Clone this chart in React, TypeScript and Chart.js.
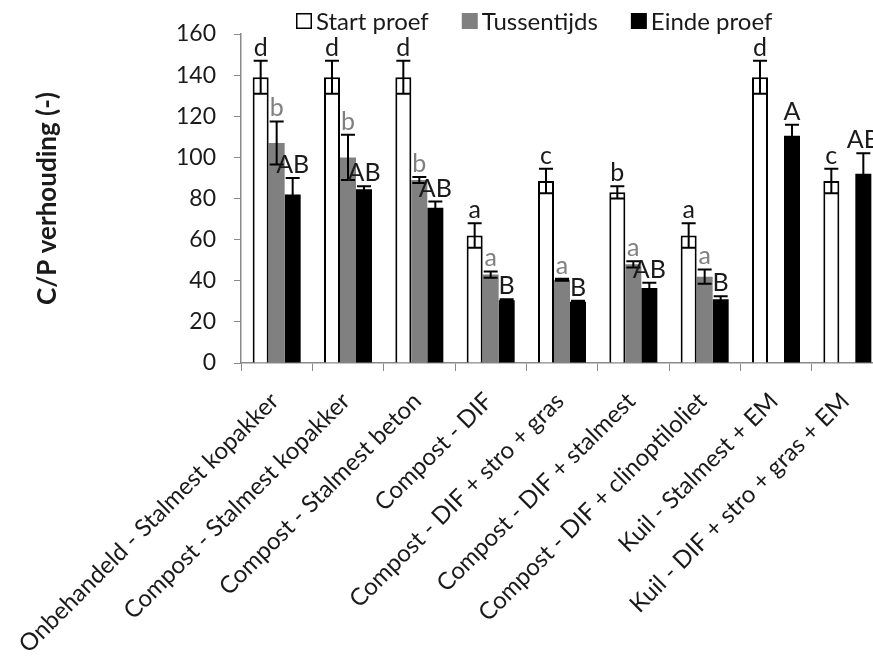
import React, { useEffect, useRef } from 'react';
import { Chart, registerables } from 'chart.js';

Chart.register(...registerables);

const categories = [
  'Onbehandeld - Stalmest kopakker',
  'Compost - Stalmest kopakker',
  'Compost - Stalmest beton',
  'Compost - DIF',
  'Compost - DIF + stro + gras',
  'Compost - DIF + stalmest',
  'Compost - DIF + clinoptiloliet',
  'Kuil - Stalmest + EM',
  'Kuil - DIF + stro + gras + EM',
];

const seriesNames = ['Start proef', 'Tussentijds', 'Einde proef'];

const startValues = [139, 139, 139, 62, 88.5, 83, 62, 139, 88.5];
const startErrors = [8, 8, 8, 6, 6, 3, 6, 8, 6];
const startLetters = ['d', 'd', 'd', 'a', 'c', 'b', 'a', 'd', 'c'];

const midValues = [107, 100, 89, 43, 40.5, 48, 42, null, null];
const midErrors = [10.5, 11, 1.5, 1.5, 0.5, 1.5, 3.5, null, null];
const midLetters = ['b', 'b', 'b', 'a', 'a', 'a', 'a', '', ''];

const endValues = [82, 84.5, 75.5, 30.5, 29.8, 36.5, 31, 110.5, 92];
const endErrors = [8, 1.5, 3, 0.5, 0.5, 2.5, 1.5, 5.4, 10];
const endLetters = ['AB', 'AB', 'AB', 'B', 'B', 'AB', 'B', 'A', 'AB'];

const yMin = 0;
const yMax = 160;
const yStep = 20;

const FONT = 'Lato, "Open Sans", sans-serif';
const GREY = '#808080';
const AXIS = '#8a8a8a';
const TEXT = '#1a1a1a';

const errorBarPlugin = {
  id: 'errorBarsLetters',
  afterDatasetsDraw(chart: any) {
    const ctx = chart.ctx;
    const yScale = chart.scales.y;
    chart.data.datasets.forEach((ds: any, di: number) => {
      const meta = chart.getDatasetMeta(di);
      meta.data.forEach((bar: any, i: number) => {
        const v = ds.data[i];
        if (v == null) return;
        const e = ds.errors[i] || 0;
        const x = bar.x;
        const top = yScale.getPixelForValue(v + e);
        const bot = yScale.getPixelForValue(v - e);
        const cap = 7;
        ctx.save();
        ctx.strokeStyle = '#000';
        ctx.lineWidth = 2;
        ctx.beginPath();
        ctx.moveTo(x, top);
        ctx.lineTo(x, bot);
        ctx.moveTo(x - cap, top);
        ctx.lineTo(x + cap, top);
        ctx.moveTo(x - cap, bot);
        ctx.lineTo(x + cap, bot);
        ctx.stroke();
        const letter = ds.letters[i];
        if (letter) {
          ctx.font = `25px ${FONT}`;
          ctx.fillStyle = ds.letterColor;
          ctx.textAlign = 'center';
          ctx.textBaseline = 'alphabetic';
          ctx.fillText(letter, x, top - 5);
        }
        ctx.restore();
      });
    });
  },
};

const legendPlugin = {
  id: 'customLegend',
  afterDraw(chart: any) {
    const ctx = chart.ctx;
    const area = chart.chartArea;
    let x = area.left + 55;
    const yMid = 21;
    const box = 16;
    ctx.save();
    ctx.font = `24px ${FONT}`;
    ctx.textBaseline = 'middle';
    ctx.textAlign = 'left';
    chart.data.datasets.forEach((ds: any) => {
      ctx.fillStyle = ds.legendFill;
      ctx.fillRect(x, yMid - box / 2, box, box);
      if (ds.legendStroke) {
        ctx.strokeStyle = ds.legendStroke;
        ctx.lineWidth = 1.5;
        ctx.strokeRect(x + 0.75, yMid - box / 2 + 0.75, box - 1.5, box - 1.5);
      }
      ctx.fillStyle = TEXT;
      ctx.fillText(ds.label, x + box + 4, yMid + 1);
      const w = ctx.measureText(ds.label).width;
      x += box + 4 + w + 33;
    });
    ctx.restore();
  },
};

export default function App() {
  const ref = useRef<HTMLCanvasElement>(null);

  useEffect(() => {
    if (!ref.current) return;
    const chart = new Chart(ref.current, {
      type: 'bar',
      data: {
        labels: categories,
        datasets: [
          {
            label: seriesNames[0],
            data: startValues,
            backgroundColor: '#ffffff',
            borderColor: '#000000',
            borderWidth: 2,
            errors: startErrors,
            letters: startLetters,
            letterColor: TEXT,
            legendFill: '#ffffff',
            legendStroke: '#000000',
          } as any,
          {
            label: seriesNames[1],
            data: midValues,
            backgroundColor: GREY,
            borderWidth: 0,
            errors: midErrors,
            letters: midLetters,
            letterColor: GREY,
            legendFill: GREY,
          } as any,
          {
            label: seriesNames[2],
            data: endValues,
            backgroundColor: '#000000',
            borderWidth: 0,
            errors: endErrors,
            letters: endLetters,
            letterColor: TEXT,
            legendFill: '#000000',
          } as any,
        ],
      },
      options: {
        responsive: false,
        animation: false,
        devicePixelRatio: 1,
        layout: { padding: { top: 34, right: 7, bottom: 0, left: 0 } },
        datasets: {
          bar: { categoryPercentage: 0.673, barPercentage: 1.0 },
        },
        plugins: {
          legend: { display: false },
          tooltip: { enabled: false },
        },
        scales: {
          x: {
            offset: true,
            grid: {
              display: true,
              offset: true,
              drawOnChartArea: false,
              drawTicks: true,
              tickLength: 8,
              color: AXIS,
              lineWidth: 1,
            },
            border: { display: true, color: AXIS, width: 1.5 },
            ticks: {
              autoSkip: false,
              maxRotation: 45,
              minRotation: 45,
              padding: 16,
              labelOffset: -2,
              color: TEXT,
              font: { family: FONT, size: 24 },
            },
            afterFit: (s: any) => {
              s.height = 299;
              s.paddingLeft = 0;
              s.paddingRight = 0;
            },
          },
          y: {
            min: yMin,
            max: yMax,
            grid: {
              display: true,
              drawOnChartArea: false,
              drawTicks: true,
              tickLength: 7,
              color: AXIS,
              lineWidth: 1,
            },
            border: { display: true, color: AXIS, width: 1.5 },
            ticks: {
              stepSize: yStep,
              padding: 18,
              color: TEXT,
              font: { family: FONT, size: 23 },
            },
            title: {
              display: true,
              text: 'C/P verhouding (-)',
              color: TEXT,
              font: { family: FONT, size: 26, weight: 'bold' },
              padding: { top: 32, bottom: 0 },
            },
            afterFit: (s: any) => {
              s.width = 241;
            },
          },
        },
      },
      plugins: [errorBarPlugin, legendPlugin],
    });
    return () => chart.destroy();
  }, []);

  return (
    <div
      style={{
        position: 'fixed',
        left: 0,
        top: 0,
        width: 873,
        height: 662,
        overflow: 'hidden',
        background: '#ffffff',
      }}
    >
      <canvas ref={ref} width={890} height={662} style={{ display: 'block', width: 890, height: 662 }} />
    </div>
  );
}
